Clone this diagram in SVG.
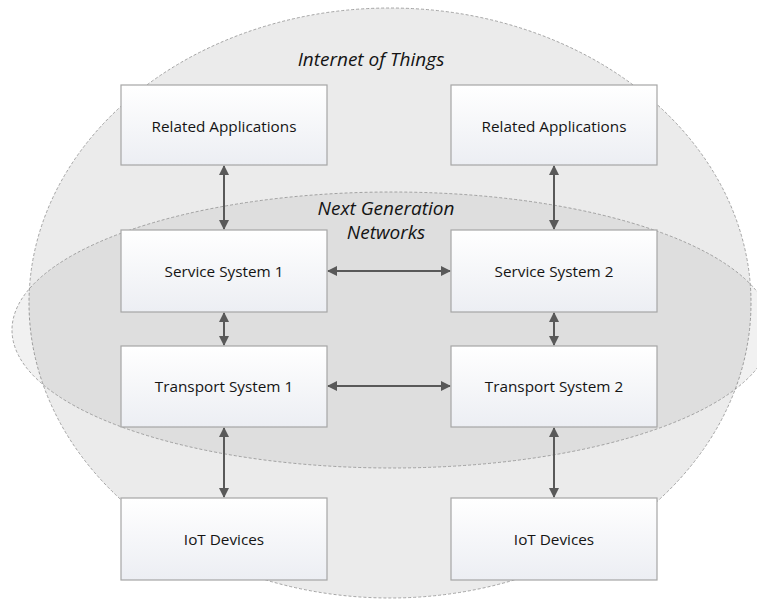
<svg xmlns="http://www.w3.org/2000/svg" width="757" height="600" viewBox="0 0 757 600">
  <defs>
    <linearGradient id="boxFill" x1="0" y1="0" x2="0" y2="1">
      <stop offset="0" stop-color="#ffffff"/>
      <stop offset="1" stop-color="#eceef3"/>
    </linearGradient>
    <marker id="arrowHead" viewBox="0 0 10 10" refX="9" refY="5" markerWidth="10" markerHeight="10" markerUnits="userSpaceOnUse" orient="auto-start-reverse">
      <path d="M0,0 L10,5 L0,10 z" fill="#595959"/>
    </marker>
    <style>
      .region { stroke: #8f8f8f; stroke-width: 0.8; stroke-dasharray: 3 2; }
      .box { fill: url(#boxFill); stroke: #a6a6a6; stroke-width: 1.2; }
      .label { font-family: "Open Sans", "Liberation Sans", sans-serif; font-size: 15.3px; font-weight: 500; fill: #141414; text-anchor: middle; }
      .title { font-family: "Open Sans", "Liberation Sans", sans-serif; font-size: 19px; font-style: italic; fill: #141414; text-anchor: middle; }
      .link { stroke: #595959; stroke-width: 2; fill: none; marker-start: url(#arrowHead); marker-end: url(#arrowHead); }
    </style>
  </defs>

  <rect width="757" height="600" fill="#ffffff"/>

  <!-- Internet of Things region -->
  <g id="iot-region">
    <ellipse class="region" cx="390" cy="303" rx="361" ry="295" fill="#ebebeb"/>
    <text class="title" x="371" y="66">Internet of Things</text>
  </g>

  <!-- Next Generation Networks region -->
  <g id="ngn-region">
    <ellipse class="region" cx="392" cy="330" rx="380" ry="138" fill="#000000" fill-opacity="0.055"/>
    <text class="title" x="386" y="215">Next Generation</text>
    <text class="title" x="386" y="239">Networks</text>
  </g>

  <!-- Connectors -->
  <g id="connectors">
    <line class="link" x1="224" y1="166" x2="224" y2="229"/>
    <line class="link" x1="554" y1="166" x2="554" y2="229"/>
    <line class="link" x1="224" y1="313" x2="224" y2="345"/>
    <line class="link" x1="554" y1="313" x2="554" y2="345"/>
    <line class="link" x1="224" y1="428" x2="224" y2="497"/>
    <line class="link" x1="554" y1="428" x2="554" y2="497"/>
    <line class="link" x1="328" y1="271" x2="450" y2="271"/>
    <line class="link" x1="328" y1="386" x2="450" y2="386"/>
  </g>

  <!-- Nodes -->
  <g id="related-apps-1">
    <rect class="box" x="121" y="85" width="206" height="80"/>
    <text class="label" x="224" y="132">Related Applications</text>
  </g>
  <g id="related-apps-2">
    <rect class="box" x="451" y="85" width="206" height="80"/>
    <text class="label" x="554" y="132">Related Applications</text>
  </g>
  <g id="service-system-1">
    <rect class="box" x="121" y="230" width="206" height="82"/>
    <text class="label" x="224" y="277">Service System 1</text>
  </g>
  <g id="service-system-2">
    <rect class="box" x="451" y="230" width="206" height="82"/>
    <text class="label" x="554" y="277">Service System 2</text>
  </g>
  <g id="transport-system-1">
    <rect class="box" x="121" y="346" width="206" height="81"/>
    <text class="label" x="224" y="392">Transport System 1</text>
  </g>
  <g id="transport-system-2">
    <rect class="box" x="451" y="346" width="206" height="81"/>
    <text class="label" x="554" y="392">Transport System 2</text>
  </g>
  <g id="iot-devices-1">
    <rect class="box" x="121" y="498" width="206" height="82"/>
    <text class="label" x="224" y="545">IoT Devices</text>
  </g>
  <g id="iot-devices-2">
    <rect class="box" x="451" y="498" width="206" height="82"/>
    <text class="label" x="554" y="545">IoT Devices</text>
  </g>
</svg>
